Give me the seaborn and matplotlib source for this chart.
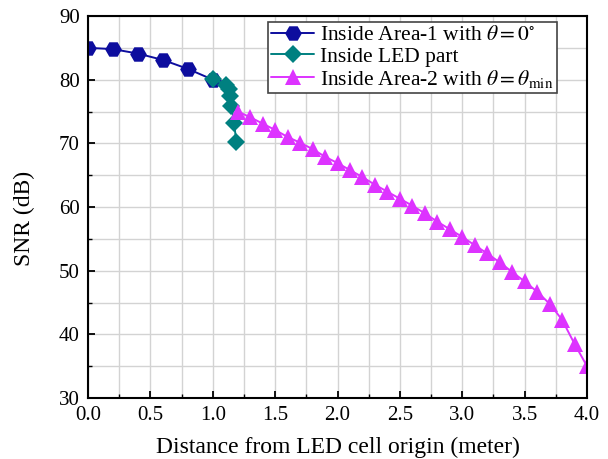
import numpy as np
import seaborn as sns
import matplotlib.pyplot as plt
from matplotlib.ticker import MultipleLocator

# ----------------------
# SNR vs distance from LED cell origin
# ----------------------

# Area-1 (theta = 0 deg)
area1_x = [0.0, 0.2, 0.4, 0.6, 0.8, 1.0]
area1_snr = [85.0, 84.8, 84.1, 83.1, 81.7, 80.0]

# LED part
led_x = [1.0, 1.11, 1.13, 1.14, 1.15, 1.15, 1.17, 1.19]
led_snr = [80.1, 79.2, 78.5, 77.4, 76.5, 75.3, 73.2, 70.2]

# Area-2 (theta = theta_min)
area2_x = [1.2, 1.3, 1.4, 1.5, 1.6, 1.7, 1.8, 1.9, 2.0, 2.1, 2.2, 2.3, 2.4, 2.5,
           2.6, 2.7, 2.8, 2.9, 3.0, 3.1, 3.2, 3.3, 3.4, 3.5, 3.6, 3.7, 3.8, 3.9, 4.0]
area2_snr = [75.0, 74.1, 73.1, 72.1, 71.0, 70.1, 69.1, 67.9, 66.9, 65.8, 64.7, 63.5,
             62.4, 61.3, 60.2, 59.0, 57.7, 56.5, 55.3, 54.0, 52.7, 51.3, 49.8, 48.3,
             46.7, 44.8, 42.3, 38.5, 35.0]

sns.set_theme(style="white")
plt.rcParams['font.family'] = ['Liberation Serif', 'DejaVu Serif']
plt.rcParams['mathtext.fontset'] = 'stix'
plt.rcParams['text.color'] = 'black'
plt.rcParams['axes.labelcolor'] = 'black'
plt.rcParams['xtick.color'] = 'black'
plt.rcParams['ytick.color'] = 'black'

fig = plt.figure(figsize=(6.08, 4.59), dpi=100)
ax = fig.add_axes([88 / 608, 1 - 398 / 459, (587 - 88) / 608, (398 - 16) / 459])

sns.lineplot(x=area1_x, y=area1_snr, ax=ax, color="#0d0d9e", marker="H", markersize=12,
             markeredgewidth=0, linewidth=1.4, sort=False,
             label=r"Inside Area-1 with $\theta = 0^{\circ}$")
sns.lineplot(x=led_x, y=led_snr, ax=ax, color="#008080", marker="D", markersize=9,
             markeredgewidth=0, linewidth=1.4, sort=False,
             label="Inside LED part")
sns.lineplot(x=area2_x, y=area2_snr, ax=ax, color="#dd33ff", marker="^", markersize=11,
             markeredgewidth=0, linewidth=1.4, sort=False,
             label=r"Inside Area-2 with $\theta = \theta_{\min}$")

ax.set_xlim(0, 4)
ax.set_ylim(30, 90)
ax.xaxis.set_major_locator(MultipleLocator(0.5))
ax.xaxis.set_minor_locator(MultipleLocator(0.25))
ax.yaxis.set_major_locator(MultipleLocator(10))
ax.yaxis.set_minor_locator(MultipleLocator(5))
ax.set_xticks(np.arange(0, 4.01, 0.5))
ax.set_xticklabels([f"{v:.1f}" for v in np.arange(0, 4.01, 0.5)])

ax.grid(True, which="both", color="#d3d3d3", linewidth=1.0)
ax.set_axisbelow(True)
ax.tick_params(which="both", direction="in", top=False, right=False, left=True, bottom=True,
               labelsize=15, colors="black")
ax.tick_params(axis="x", pad=6)
ax.tick_params(axis="y", pad=6)
ax.tick_params(which="major", length=5, width=1.3)
ax.tick_params(which="minor", length=3, width=1.0)
for s in ax.spines.values():
    s.set_color("black")
    s.set_linewidth(1.5)

ax.set_xlabel("Distance from LED cell origin (meter)", fontsize=17, labelpad=8)
ax.set_ylabel("SNR (dB)", fontsize=17)
ax.yaxis.set_label_coords(-0.106, 0.47)

leg = ax.legend(loc="upper right", bbox_to_anchor=(0.94, 0.984), fontsize=15.5,
                frameon=True, fancybox=False, edgecolor="#444444", framealpha=1,
                borderpad=0.15, labelspacing=0.05, handlelength=2.0, handletextpad=0.3,
                borderaxespad=0)
leg.get_frame().set_linewidth(1.2)

plt.savefig("out.png", dpi=100)
